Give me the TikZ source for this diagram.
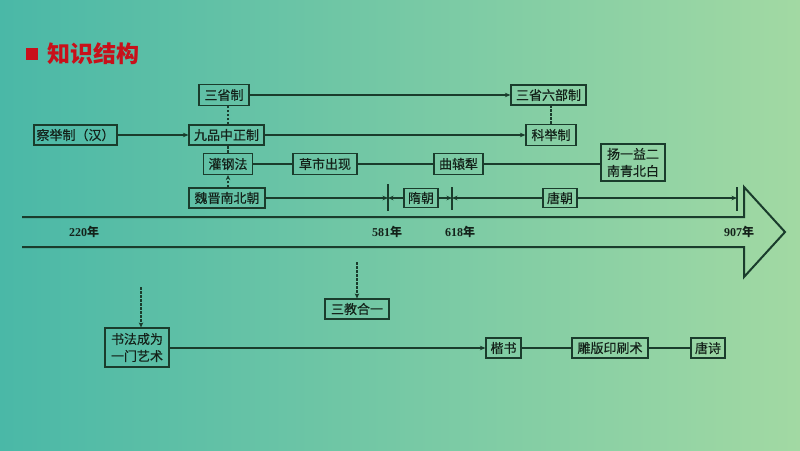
\documentclass[tikz,border=0pt]{standalone}
\usepackage{fontspec}
\setmainfont{Liberation Serif}
\newfontfamily\cjk{Noto Sans CJK SC}
\newfontfamily\cjkm[FakeBold=0.4]{Noto Sans CJK SC}
\usetikzlibrary{arrows.meta}
\definecolor{bgL}{RGB}{74,184,167}
\definecolor{bgR}{RGB}{162,217,163}
\definecolor{linec}{RGB}{26,60,44}
\definecolor{txtc}{RGB}{20,34,26}
\definecolor{titred}{RGB}{200,16,26}
\tikzset{
  box/.style={draw=linec, line width=1.2pt, inner sep=0pt, align=center,
    font=\cjkm\fontsize{13}{17}\selectfont, text=txtc},
  conn/.style={draw=linec, line width=1.1pt},
  arr/.style={conn, -{Stealth[length=5.5pt,width=4.5pt]}},
  dsh/.style={conn, dash pattern=on 2.5pt off 1.5pt},
  yr/.style={font=\bfseries\fontsize{12}{14}\selectfont, text=txtc, inner sep=0pt},
}
\newcommand{\nian}{{\cjk\bfseries 年}}
\begin{document}
\begin{tikzpicture}[x=1pt,y=-1pt]
\useasboundingbox (0,0) rectangle (800,450);
\shade[left color=bgL, right color=bgR] (0,0) rectangle (800,450);
% title
\fill[titred] (26,48) rectangle (38,60);
\node[anchor=west, text=titred, inner sep=0pt, font=\cjk\bfseries\fontsize{23}{26}\selectfont] (title) at (47,54) {知识结构};
% boxes
\node[box, minimum width=50pt, minimum height=21pt] (ssz) at (224,95) {三省制};
\node[box, minimum width=75pt, minimum height=20pt] (sslb) at (548.5,95) {三省六部制};
\node[box, minimum width=83pt, minimum height=20pt] (cjz) at (75.5,135) {察举制（汉）};
\node[box, minimum width=75pt, minimum height=20pt] (jpz) at (226.5,135) {九品中正制};
\node[box, minimum width=50pt, minimum height=21pt] (kjz) at (551,135) {科举制};
\node[box, minimum width=49pt, minimum height=21pt] (ggf) at (228,164) {灌钢法};
\node[box, minimum width=64pt, minimum height=21pt] (csc) at (325,164) {草市出现};
\node[box, minimum width=49pt, minimum height=21pt] (qyl) at (458.5,164) {曲辕犁};
\node[box, minimum width=64pt, minimum height=37pt] (yy) at (633,162.5) {扬一益二\\南青北白};
\node[box, minimum width=76pt, minimum height=20pt] (wj) at (227,198) {魏晋南北朝};
\node[box, minimum width=34pt, minimum height=19pt] (sc) at (421,198) {隋朝};
\node[box, minimum width=34pt, minimum height=19pt] (tc) at (560,198) {唐朝};
\node[box, minimum width=64pt, minimum height=20pt] (sjhy) at (357,309) {三教合一};
\node[box, minimum width=64pt, minimum height=39pt] (sf) at (137,347.5) {书法成为\\一门艺术};
\node[box, minimum width=35pt, minimum height=20pt] (ks) at (503.5,348) {楷书};
\node[box, minimum width=76pt, minimum height=20pt] (db) at (610,348) {雕版印刷术};
\node[box, minimum width=34pt, minimum height=20pt] (ts) at (708,348) {唐诗};
% big arrow
\draw[linec, line width=2pt, line join=miter] (22,217) -- (744,217) -- (744,187) -- (785,232) -- (744,277) -- (744,247) -- (22,247);
% year labels
\node[yr] (y220) at (84,232) {220\nian};
\node[yr] (y581) at (387,232) {581\nian};
\node[yr] (y618) at (460,232) {618\nian};
\node[yr] (y907) at (739,232) {907\nian};
% ticks
\coordinate (t1) at (388,198);
\coordinate (t2) at (452,198);
\coordinate (t3) at (737,198);
\draw[conn] (388,184) -- (388,211);
\draw[conn] (452,187) -- (452,210);
\draw[conn] (737,187) -- (737,211);
% connectors
\draw[arr] (ssz) -- (sslb);
\draw[arr] (cjz) -- (jpz);
\draw[arr] (jpz) -- (kjz);
\draw[dsh] (jpz.north -| ggf) -- (ssz.south -| ggf);
\draw[dsh] (ggf.north) -- (jpz.south -| ggf);
\draw[dsh, -{Stealth[length=5pt,width=4.5pt]}] (wj.north -| ggf) -- (ggf.south);
\draw[dsh] (kjz.north) -- (sslb.south -| kjz);
\draw[conn] (ggf) -- (csc) -- (qyl) -- (yy.west |- qyl);
\draw[arr] (wj) -- (t1);
\draw[arr] (sc) -- (t1);
\draw[arr] (sc) -- (t2);
\draw[arr] (tc) -- (t2);
\draw[arr] (tc) -- (t3);
\coordinate (d1) at (357,262);
\coordinate (d2) at (141,287);
\draw[dsh, -{Stealth[length=5pt,width=4.5pt]}] (d1) -- (sjhy.north);
\draw[dsh, -{Stealth[length=5pt,width=4.5pt]}] (d2) -- (sf.north -| d2);
\draw[arr] (sf.east |- ks) -- (ks.west);
\draw[conn] (ks) -- (db) -- (ts);
\end{tikzpicture}
\end{document}
